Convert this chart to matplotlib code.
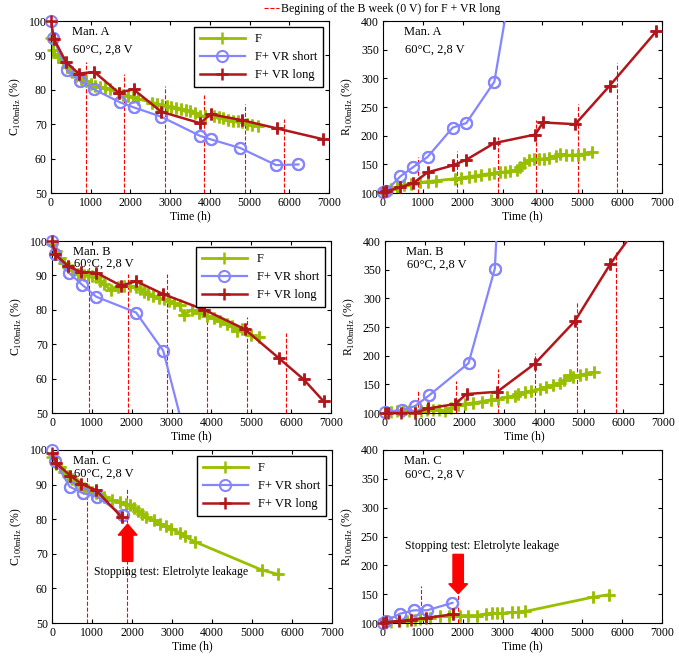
import matplotlib
matplotlib.use("Agg")
import matplotlib.pyplot as plt
from matplotlib.lines import Line2D

plt.rcParams['font.family'] = ['Liberation Serif', 'DejaVu Serif']
plt.rcParams['mathtext.fontset'] = 'custom'
plt.rcParams['mathtext.rm'] = 'Liberation Serif'
plt.rcParams['font.size'] = 8.5

GREEN = '#99c000'
BLUE = '#8585ff'
RED = '#b0161a'

# ---- Man. A ----
a_c_f_t = [0, 50, 170, 290, 400, 520, 640, 760, 880, 1000, 1120, 1240, 1360, 1480, 1700, 1820, 1940, 2060,
           2180, 2550, 2670, 2790, 2910, 3030, 3150, 3270, 3390, 3510, 3630, 3750, 3870, 4100, 4220, 4340,
           4460, 4580, 4700, 4820, 4940, 5060, 5200]
a_c_f_v = [95, 91.5, 89.5, 88, 86.5, 85.2, 84, 83.2, 82.5, 81.8, 81.2, 80.8, 80.5, 80.2, 79, 78.6, 78.2, 77.8,
           77.4, 76.3, 76, 75.7, 75.4, 75.1, 74.8, 74.5, 74.2, 73.8, 73.2, 72.5, 72.3, 72.5, 72.1, 71.7,
           71.3, 71, 70.8, 70.5, 70.2, 69.9, 69.5]
a_c_s_t = [0, 50, 400, 720, 1090, 1730, 2080, 2770, 3755, 4020, 4760, 5670, 6230]
a_c_s_v = [100, 95.2, 85.7, 82.6, 80.1, 76.4, 74.9, 72.2, 66.6, 65.6, 63.1, 58.1, 58.3]
a_c_l_t = [0, 70, 380, 700, 1090, 1700, 2080, 2780, 3755, 4020, 4800, 5680, 6860]
a_c_l_v = [100, 94.9, 88, 84.7, 85.2, 79.2, 80.1, 73.6, 70.3, 72.9, 71.2, 68.8, 65.6]
a_c_week_t = [870, 1850, 2860, 3860, 4890, 5870]
a_c_week_top = [88, 84.5, 81, 78.5, 76, 71.6]

a_r_f_t = [0, 100, 200, 350, 518, 702, 936, 1120, 1329, 1814, 1957, 2149, 2316, 2458, 2651, 2793, 2926,
           3069, 3194, 3361, 3445, 3528, 3654, 3779, 3921, 4047, 4172, 4348, 4448, 4590, 4741, 4883, 5033, 5242]
a_r_f_v = [100, 104, 107, 110, 114.5, 116, 118.5, 120, 121.4, 125, 126.6, 128.4, 130, 131.8, 133.6, 134.7,
           135.9, 137, 138.8, 140.5, 146, 152, 156.7, 159, 159, 160, 160.8, 165, 168, 166, 166, 167, 168, 172]
a_r_s_t = [0, 84, 435, 753, 1120, 1747, 2090, 2793, 3200]
a_r_s_v = [101, 104, 129, 145, 163, 214, 222, 294, 460]
a_r_l_t = [0, 84, 435, 753, 1120, 1747, 2090, 2793, 3821, 4013, 4824, 5686, 6856]
a_r_l_v = [101, 103, 110, 117, 136, 148, 158, 187, 202, 223, 220, 287, 382]
a_r_week_t = [870, 1848, 2876, 3838, 4883, 5861]
a_r_week_top = [163, 173, 198, 227, 255, 327]

# ---- Man. B ----
b_c_f_t = [0, 100, 200, 300, 400, 500, 650, 800, 900, 1000, 1100, 1200, 1300, 1480, 1650, 1800, 1950, 2100,
           2200, 2300, 2400, 2546, 2680, 2815, 2930, 3050, 3200, 3303, 3513, 3681, 3891, 4059, 4227, 4395,
           4520, 4647, 4773, 4983, 5193]
b_c_f_v = [99, 97, 95, 93.5, 92.5, 91.5, 90.5, 90, 90, 89.7, 89.5, 88.5, 87.5, 85.7, 86.5, 87, 87, 86.5,
           86, 85.3, 84.7, 84, 83.5, 83, 82.5, 82, 81.3, 78.5, 80, 79.2, 78.2, 77.5, 76.7, 76,
           75.2, 73.9, 74.3, 72.7, 72]
b_c_s_t = [0, 67, 430, 765, 1110, 2110, 2790, 3350]
b_c_s_v = [100, 96.3, 90.7, 87.2, 83.8, 79.2, 68.1, 43]
b_c_l_t = [0, 84, 403, 723, 1110, 1730, 2110, 2782, 3820, 4832, 5697, 6311, 6815]
b_c_l_v = [100, 96.1, 92.7, 91, 90.8, 87, 88.3, 84.6, 80, 74.4, 65.9, 59.8, 53.4]
b_c_week_t = [933, 1916, 2882, 3891, 4899, 5866]
b_c_week_top = [93.4, 90.5, 90.5, 82.8, 78, 73.2]

b_r_f_t = [0, 150, 300, 450, 600, 750, 900, 1050, 1200, 1350, 1509, 1650, 1844, 2012, 2221, 2431, 2657,
           2850, 3060, 3269, 3353, 3521, 3688, 3898, 4065, 4233, 4401, 4501, 4652, 4736, 4904, 5071, 5256]
b_r_f_v = [100, 102, 104, 103, 104, 103, 104, 105, 106, 106, 104, 108, 114, 116, 117.6, 120, 123,
           124.7, 127.6, 130.4, 133, 136, 138, 142, 145, 148, 152, 157, 165.7, 163, 165.7, 168.6, 171]
b_r_s_t = [0, 419, 754, 1115, 2104, 2766, 2850]
b_r_s_v = [101.7, 105, 112, 131, 187, 352, 470]
b_r_l_t = [0, 84, 402, 754, 1090, 1760, 2054, 2825, 3772, 4778, 5675, 6300]
b_r_l_v = [100, 100, 100, 100, 108, 115.6, 133, 137, 186, 260, 360, 420]
b_r_week_t = [821, 1777, 2833, 3789, 4837, 5826]
b_r_week_top = [140, 155, 176, 205, 293, 380]

# ---- Man. C ----
c_c_f_t = [0, 100, 200, 300, 400, 500, 600, 700, 800, 900, 1000, 1100, 1200, 1300, 1500, 1700, 1850, 1950,
           2050, 2150, 2250, 2350, 2542, 2692, 2850, 2975, 3208, 3317, 3567, 5250, 5642]
c_c_f_v = [98, 96, 95, 93.5, 92.5, 91.5, 90.5, 90, 89, 88.5, 88, 87.5, 87, 86.3, 85.5, 85, 84.5, 84,
           83.2, 82.5, 81.5, 80.5, 79.7, 78.6, 78, 77.2, 76, 75.1, 73.5, 65.3, 64.1]
c_c_s_t = [0, 67, 442, 775, 1125, 1775]
c_c_s_v = [100, 96.9, 89.4, 87.5, 86.5, 81.2]
c_c_l_t = [0, 108, 458, 733, 1100, 1750]
c_c_l_v = [99, 96.1, 92.6, 90.2, 88.4, 80.5]
c_c_week_t = [883, 1883]
c_c_week_top = [92.5, 88.6]

c_r_f_t = [0, 200, 400, 600, 800, 922, 1173, 1425, 1650, 1928, 2137, 2347, 2582, 2724, 2850, 2992,
           3227, 3395, 3562, 5281, 5658]
c_r_f_v = [100, 102, 103, 104, 106, 107.5, 109, 112, 112.5, 113, 113, 113, 116, 117, 117, 117,
           118.5, 118.5, 120, 145, 149]
c_r_s_t = [0, 84, 419, 771, 1106, 1743]
c_r_s_v = [100, 103.5, 116, 122, 122, 135]
c_r_l_t = [0, 84, 402, 712, 1073, 1760]
c_r_l_v = [100, 101.7, 103, 105.8, 108.7, 115]
c_r_week_t = [947, 1886]
c_r_week_top = [165, 200]

W, H = 679, 658
fig = plt.figure(figsize=(W / 100, H / 100), dpi=100)


def add_ax(left, top, right, bottom):
    return fig.add_axes([left / W, 1 - bottom / H, (right - left) / W, (bottom - top) / H])


def series(ax, t, v, ylim, label, **kw):
    # line clipped to the axes, markers kept whole at the frame (as in the original)
    ax.plot(t, v, label=label, **kw)
    inside = [(a, b) for a, b in zip(t, v) if ylim[0] <= b <= ylim[1]]
    mk = dict(kw)
    mk['ls'] = 'none'
    ax.plot([p[0] for p in inside], [p[1] for p in inside], clip_on=False, **mk)


def draw_panel(ax, f, s, l, week, cap, label, line_gap, legend=False):
    ylim = (50, 100) if cap else (100, 400)
    ax.vlines(week[0], ylim[0], week[1], colors='red', linestyles='--', lw=0.8, zorder=1.5)
    series(ax, f[0], f[1], ylim, 'F', color=GREEN, lw=2, marker='+', ms=8, mew=1.8, zorder=2)
    series(ax, s[0], s[1], ylim, 'F+ VR short', color=BLUE, lw=1.6, marker='o', ms=8, mew=1.5,
           mfc='none', zorder=3)
    series(ax, l[0], l[1], ylim, 'F+ VR long', color=RED, lw=1.8, marker='+', ms=8, mew=1.8, zorder=4)
    ax.set_xlim(0, 7000)
    ax.set_xticks(range(0, 7001, 1000))
    ax.set_ylim(*ylim)
    if cap:
        ax.set_yticks(range(50, 101, 10))
        ax.set_ylabel(r'C$_{\rm 100mHz}$ (%)')
    else:
        ax.set_yticks(range(100, 401, 50))
        ax.set_ylabel(r'R$_{\rm 100mHz}$ (%)')
    ax.set_xlabel('Time (h)', labelpad=1)
    ax.tick_params(direction='in', top=True, right=True, length=3, labelsize=8.5, pad=3)
    ax.text(0.075, 0.935, label, transform=ax.transAxes, fontsize=9, va='center')
    ax.text(0.08, 0.935 - line_gap, '60\u00b0C, 2,8 V', transform=ax.transAxes, fontsize=9, va='center')
    if legend:
        leg = ax.legend(loc='upper right', fancybox=False, edgecolor='black', framealpha=1,
                        handlelength=3.6, numpoints=1, fontsize=9, borderaxespad=0.5,
                        labelspacing=0.5, borderpad=0.45)
        leg.get_frame().set_linewidth(1)
        leg.set_zorder(6)


ax1 = add_ax(51, 21, 329, 193)
draw_panel(ax1, (a_c_f_t, a_c_f_v), (a_c_s_t, a_c_s_v), (a_c_l_t, a_c_l_v),
           (a_c_week_t, a_c_week_top), True, 'Man. A', 0.1, legend=True)
ax2 = add_ax(383, 21, 662, 193)
draw_panel(ax2, (a_r_f_t, a_r_f_v), (a_r_s_t, a_r_s_v), (a_r_l_t, a_r_l_v),
           (a_r_week_t, a_r_week_top), False, 'Man. A', 0.1)

ax3 = add_ax(52, 241, 331, 413)
draw_panel(ax3, (b_c_f_t, b_c_f_v), (b_c_s_t, b_c_s_v), (b_c_l_t, b_c_l_v),
           (b_c_week_t, b_c_week_top), True, 'Man. B', 0.07, legend=True)
ax4 = add_ax(385, 241, 663, 413)
draw_panel(ax4, (b_r_f_t, b_r_f_v), (b_r_s_t, b_r_s_v), (b_r_l_t, b_r_l_v),
           (b_r_week_t, b_r_week_top), False, 'Man. B', 0.075)

ax5 = add_ax(52, 450, 332, 623)
draw_panel(ax5, (c_c_f_t, c_c_f_v), (c_c_s_t, c_c_s_v), (c_c_l_t, c_c_l_v),
           (c_c_week_t, c_c_week_top), True, 'Man. C', 0.07, legend=True)
ax6 = add_ax(383, 450, 662, 623)
draw_panel(ax6, (c_r_f_t, c_r_f_v), (c_r_s_t, c_r_s_v), (c_r_l_t, c_r_l_v),
           (c_r_week_t, c_r_week_top), False, 'Man. C', 0.08)

# stopping arrows
ax5.arrow(1890, 67.8, 0, 10.8, width=260, head_width=470, head_length=3.2,
          length_includes_head=True, color='red', zorder=5)
ax5.text(1040, 64.6, 'Stopping test: Eletrolyte leakage', fontsize=8.5, va='center')
ax6.arrow(1886, 219, 0, -68, width=260, head_width=470, head_length=17,
          length_includes_head=True, color='red', zorder=5)
ax6.text(560, 234, 'Stopping test: Eletrolyte leakage', fontsize=8.5, va='center')

handle = Line2D([], [], color='red', ls='--', lw=0.8)
fig.legend([handle], ['Begining of the B week (0 V) for F + VR long'], loc='upper center',
           bbox_to_anchor=(382 / W, 1.012), frameon=False, handlelength=1.3, handletextpad=0.1,
           fontsize=8.5)

fig.savefig('out.png', dpi=100)
